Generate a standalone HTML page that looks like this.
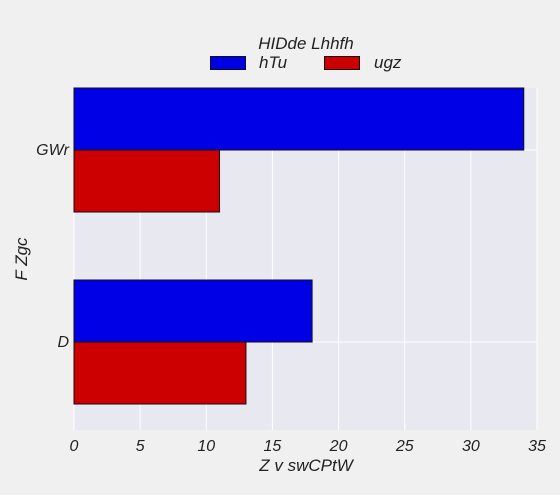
<!DOCTYPE html>
<html><head><meta charset="utf-8"><style>
body{margin:0;background:#f0f0f0;}
text{font-family:"Liberation Sans",sans-serif;font-style:italic;fill:#222;}
</style></head><body>
<svg id="chart" width="560" height="490" xmlns="http://www.w3.org/2000/svg">
<rect x="0" y="0" width="560" height="490" fill="#f0f0f0"/>
<rect x="74" y="88" width="463" height="342" fill="#e8e8f0"/>
<g id="grid"></g>
<g id="bars"></g>
<g id="xticks"></g>
<g id="yticks"></g>
<text x="306" y="471" font-size="17" text-anchor="middle">Z v swCPtW</text>
<text x="27" y="259" font-size="17" text-anchor="middle" transform="rotate(-90 27 259)">F Zgc</text>
<g>
<text x="306" y="49" font-size="17" text-anchor="middle">HIDde Lhhfh</text>
<rect x="210.5" y="56.5" width="35" height="13" fill="#0000e6" stroke="#111"/>
<text x="259" y="68" font-size="17">hTu</text>
<rect x="324.5" y="56.5" width="35" height="13" fill="#cc0000" stroke="#111"/>
<text x="374" y="68" font-size="17">ugz</text>
</g>
</svg>
<script>
const categories = ["D", "GWr"];
const seriesNames = ["hTu", "ugz"];
const htuValues = [18, 34];
const ugzValues = [13, 11];
const xTicks = [0, 5, 10, 15, 20, 25, 30, 35];
const NS = "http://www.w3.org/2000/svg";
const x0 = 74, x1 = 537, xMax = 35;
const xs = v => x0 + v / xMax * (x1 - x0);
const ys = c => 342 - c * 192;
const barH = 62;
function mk(tag, attrs, parent) {
  const e = document.createElementNS(NS, tag);
  for (const k in attrs) e.setAttribute(k, attrs[k]);
  parent.appendChild(e);
  return e;
}
const grid = document.getElementById("grid");
const xt = document.getElementById("xticks");
xTicks.forEach(t => {
  const l = mk("line", {x1: xs(t), x2: xs(t), y1: 88, y2: 430, stroke: "#fff", "stroke-width": 1}, grid);
  
  
  const tx = mk("text", {x: xs(t), y: 451, "font-size": 16, "text-anchor": "middle"}, xt);
  tx.textContent = t;
  
  
});
const yt = document.getElementById("yticks");
categories.forEach((c, i) => {
  const l = mk("line", {x1: x0, x2: x1, y1: ys(i), y2: ys(i), stroke: "#fff", "stroke-width": 1}, grid);
  
  
  const tx = mk("text", {x: 69, y: ys(i) + 5, "font-size": 16, "text-anchor": "end"}, yt);
  tx.textContent = c;
  
  
});
const bars = document.getElementById("bars");
categories.forEach((c, i) => {
  const b1 = mk("rect", {x: xs(0), y: ys(i) - barH, width: xs(htuValues[i]) - xs(0), height: barH, fill: "#0000e6", stroke: "#111", "stroke-width": 1}, bars);
  
  
  const b2 = mk("rect", {x: xs(0), y: ys(i), width: xs(ugzValues[i]) - xs(0), height: barH, fill: "#cc0000", stroke: "#111", "stroke-width": 1}, bars);
  
  
});
</script>
</body></html>
